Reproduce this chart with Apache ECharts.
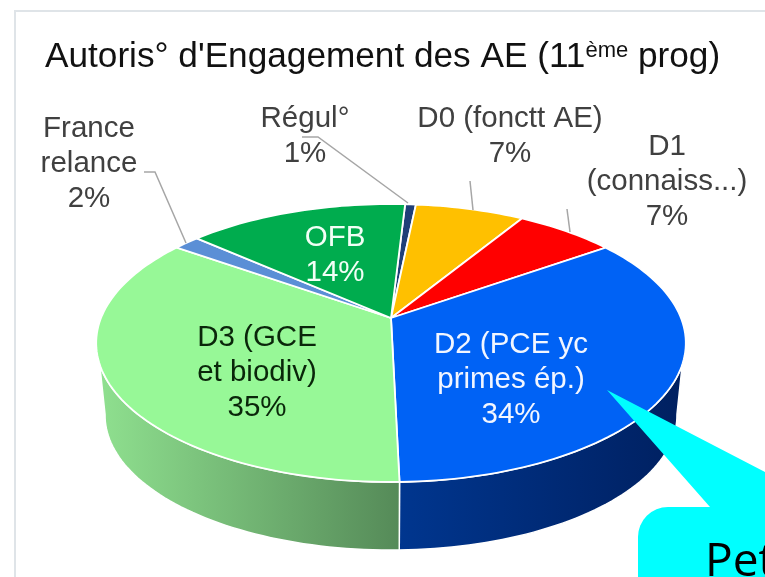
<!DOCTYPE html>
<html>
<head>
<meta charset="utf-8">
<script src="https://cdn.jsdelivr.net/npm/echarts@6/dist/echarts.min.js"></script>
<style>
html, body { margin: 0; padding: 0; background: #fff; }
#chart { width: 765px; height: 577px; }
</style>
</head>
<body>
<div id="chart"></div>
<script>
// values (labels show them rounded)
const categories = ["Régul°", "D0 (fonctt AE)", "D1\n(connaiss...)", "D2 (PCE yc\nprimes ép.)", "D3 (GCE\net biodiv)", "France\nrelance", "OFB"];
const shares = [0.7, 7.1, 6.5, 34.4, 35.2, 1.7, 14.4];
const topColors = ["#1f3f78", "#ffc000", "#ff0000", "#0062f5", "#97f897", "#5b8fd6", "#00ac4e"];
const labelColors = ["#404040", "#404040", "#404040", "#f2f6ff", "#0a260a", "#404040", "#f2fff6"];
const sideStops = [
	["#1f3f78", "#1f3f78"], ["#ffc000", "#ffc000"], ["#ff0000", "#ff0000"],
	["#00368f", "#002060"], ["#8fe08f", "#558a58"], ["#5b8fd6", "#5b8fd6"], ["#00ac4e", "#00ac4e"]
];

// label centres and leader lines, in pixels
const labelPos = [[305, 136], [510, 136], [667, 182], [511, 380], [257, 373], [89, 164], [335, 255]];
const leaders = [
	[[302, 137], [318, 137], [408, 203]],
	[[470, 181], [473, 210]],
	[[567, 209], [570, 232]],
	null,
	null,
	[[144, 172], [155, 172], [186, 243]],
	null
];

// perspective model of the disc: apex, half axes, depth of the side
const apex = [391, 318];
const k = -0.18, scaleX = 290, scaleY = 134.5;
const startDeg = 3.3;
const bottomScale = 0.97, bottomDrop = 73;

function project(deg, scale, drop) {
	const t = deg * Math.PI / 180;
	const u = Math.sin(t), v = -Math.cos(t);
	const w = 1 + k * v;
	return [apex[0] + scaleX * scale * u / w, apex[1] + drop + scaleY * scale * v / w];
}

function arc(from, to, scale, drop) {
	const pts = [];
	const n = Math.max(2, Math.ceil(Math.abs(to - from) / 1.5));
	for (let i = 0; i <= n; i++) {
		pts.push(project(from + (to - from) * i / n, scale, drop));
	}
	return pts;
}

// turn the values into angular ranges
const total = shares.reduce(function (a, b) { return a + b; }, 0);
let running = startDeg;
const ranges = shares.map(function (s) {
	const from = running;
	running += s * 360 / total;
	return [from, running];
});

function renderSide(params, api) {
	const r = ranges[params.dataIndex];
	// visible part of the rim, the lower edge reaches a bit further round
	const a = Math.max(r[0], 109), b = Math.min(r[1], 251);
	const c = Math.max(r[0], 100), d = Math.min(r[1], 260);
	if (a >= b) return { type: "group", children: [] };
	const pts = arc(a, b, 1, 0).concat(arc(d, c, bottomScale, bottomDrop));
	const stops = sideStops[params.dataIndex];
	return {
		type: "polygon",
		shape: { points: pts },
		style: {
			fill: new echarts.graphic.LinearGradient(0, 0, 1, 0, [
				{ offset: 0, color: stops[0] },
				{ offset: 1, color: stops[1] }
			]),
			stroke: "#fff",
			lineWidth: 1.5
		}
	};
}

function renderTop(params, api) {
	const i = params.dataIndex;
	const r = ranges[i];
	return {
		type: "polygon",
		shape: { points: [apex].concat(arc(r[0], r[1], 1, 0)) },
		style: { fill: topColors[i], stroke: "#fff", lineWidth: 1.8 }
	};
}

function renderLabel(params, api) {
	const i = params.dataIndex;
	const children = [];
	if (leaders[i]) {
		children.push({
			type: "polyline",
			shape: { points: leaders[i] },
			style: { stroke: "#a6a6a6", lineWidth: 1.5, fill: "none" }
		});
	}
	children.push({
		type: "text",
		style: {
			text: categories[i] + "\n" + Math.round(api.value(0)) + "%",
			x: labelPos[i][0],
			y: labelPos[i][1],
			align: "center",
			verticalAlign: "middle",
			fontFamily: "Liberation Sans",
			fontSize: 29.5,
			lineHeight: 35,
			fill: labelColors[i]
		}
	});
	return { type: "group", children: children };
}

const chart = echarts.init(document.getElementById("chart"), null, { renderer: "canvas" });
chart.setOption({
	animation: false,
	backgroundColor: "#fff",
	title: {
		left: 45,
		top: 40,
		padding: 0,
		text: "{a|Autoris° d'Engagement des AE (11}{s|ème}{a| prog)}",
		textStyle: {
			rich: {
				a: { fontFamily: "Liberation Sans", fontSize: 35.2, color: "#111", fontWeight: "normal" },
				s: { fontFamily: "Liberation Sans", fontSize: 22, color: "#111", fontWeight: "normal", verticalAlign: "top", padding: [0, 0, 8, 0] }
			}
		}
	},
	series: [
		{ type: "custom", coordinateSystem: "none", silent: true, z: 2, renderItem: renderSide, data: shares },
		{ type: "custom", coordinateSystem: "none", silent: true, z: 3, renderItem: renderTop, data: shares },
		{ type: "custom", coordinateSystem: "none", silent: true, z: 4, renderItem: renderLabel, data: shares }
	],
	graphic: [
		// slide frame
		{ type: "polyline", z: 1, silent: true, shape: { points: [[15, 577], [15, 11], [765, 11]] }, style: { stroke: "#dfe4e8", lineWidth: 2, fill: "none" } },
		// callout over the chart
		{ type: "rect", z: 50, silent: true, shape: { x: 638, y: 507, width: 160, height: 110, r: 30 }, style: { fill: "#00ffff" } },
		{ type: "polygon", z: 50, silent: true, shape: { points: [[607, 390], [765, 472], [765, 510], [710, 510], [710, 507]] }, style: { fill: "#00ffff" } },
		{ type: "text", z: 51, silent: true, style: { text: "Pet", x: 705, y: 586, verticalAlign: "bottom", fontFamily: "Open Sans", fontSize: 46, fill: "#000" } }
	]
});
</script>
</body>
</html>
